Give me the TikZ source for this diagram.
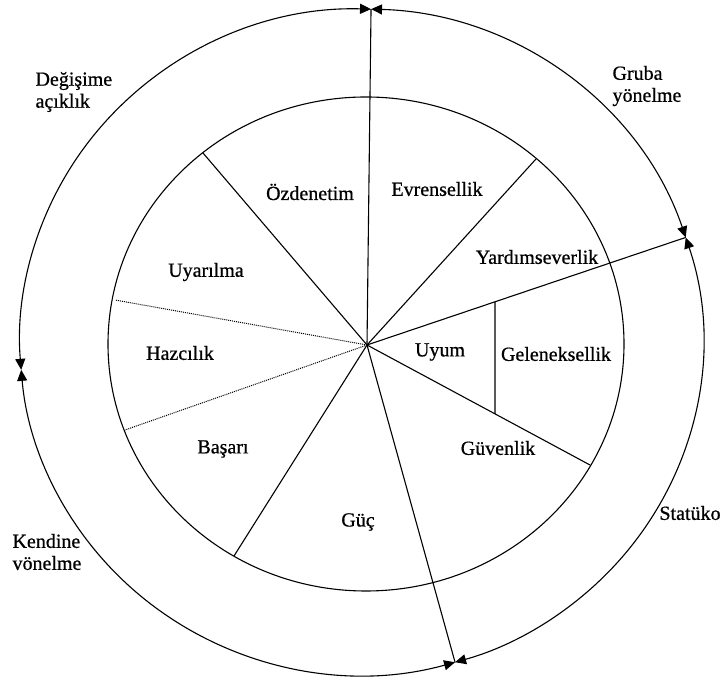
\documentclass[tikz,border=0pt]{standalone}
\usepackage{fontspec}
\setmainfont[FakeBold=0.7]{Liberation Serif}
\usetikzlibrary{arrows.meta,calc}
\begin{document}
\begin{tikzpicture}[x=1pt,y=1pt,
  line width=1.1pt,
  lbl/.style={font=\fontsize{20}{22}\selectfont, inner sep=0pt},
  side/.style={lbl, align=left, anchor=west},
  span/.style={{Triangle[length=11pt,width=10pt]}-{Triangle[length=11pt,width=10pt]}},
  soft/.style={line width=1pt, densely dotted}]
\useasboundingbox (0,0) rectangle (723,679);
% centres of the two rings and the hub of the spokes
\coordinate (oc) at (361.5,337);
\coordinate (ic) at (366,335);
\coordinate (c)  at (367,334);
% division points on the outer ring
\coordinate (T) at ($(oc)+(88.4:341.5 and 333)$);
\coordinate (R) at ($(oc)+(18.3:341.5 and 333)$);
\coordinate (B) at ($(oc)+(-74.1:341.5 and 333)$);
\coordinate (L) at ($(oc)+(184.8:341.5 and 333)$);
% spoke ends on the inner ring
\coordinate (p1) at (203,526);
\coordinate (p2) at (536,520);
\coordinate (p3) at (590,214);
\coordinate (p4) at (234,123);
\coordinate (p5) at (125,249);
\coordinate (p6) at (115,379);
% vertical separator between Uyum and Geleneksellik
\coordinate (vb) at (495,0);
\coordinate (vt) at (495,679);
\coordinate (u) at (intersection of c--R and vb--vt);
\coordinate (d) at (intersection of c--p3 and vb--vt);

% inner ring
\draw (ic) ellipse [x radius=258pt, y radius=247pt];

% outer ring, four double-headed arcs
\draw[span] (T) arc[start angle=88.4, end angle=184.8, x radius=341.5pt, y radius=333pt];
\draw[span] (T) arc[start angle=88.4, end angle=18.3, x radius=341.5pt, y radius=333pt];
\draw[span] (R) arc[start angle=18.3, end angle=-74.1, x radius=341.5pt, y radius=333pt];
\draw[span] (B) arc[start angle=-74.1, end angle=-175.2, x radius=341.5pt, y radius=333pt];

% spokes
\draw (c) -- (T);
\draw (c) -- (R);
\draw (c) -- (B);
\draw (c) -- (p1);
\draw (c) -- (p2);
\draw (c) -- (p3);
\draw (c) -- (p4);
\draw[soft] (c) -- (p5);
\draw[soft] (c) -- (p6);
\draw (u) -- (d);

% value labels
\node[lbl] (oz) at (310,487) {Özdenetim};
\node[lbl] (ev) at (437,490) {Evrensellik};
\node[lbl] (ya) at (537,422) {Yardımseverlik};
\node[lbl] (uy) at (206,407) {Uyarılma};
\node[lbl] (hz) at (180,326) {Hazcılık};
\node[lbl] (um) at (440,327) {Uyum};
\node[lbl] (gl) at (556,325) {Geleneksellik};
\node[lbl] (bs) at (223,230) {Başarı};
\node[lbl] (gv) at (498,231) {Güvenlik};
\node[lbl] (gc) at (358,157) {Güç};

% higher-order dimensions
\node[side] (da) at (35,587) {Değişime\\açıklık};
\node[side] (gy) at (612,593) {Gruba\\yönelme};
\node[side] (kv) at (12,127) {Kendine\\vönelme};
\node[lbl] (st) at (690,166) {Statüko};
\end{tikzpicture}
\end{document}
